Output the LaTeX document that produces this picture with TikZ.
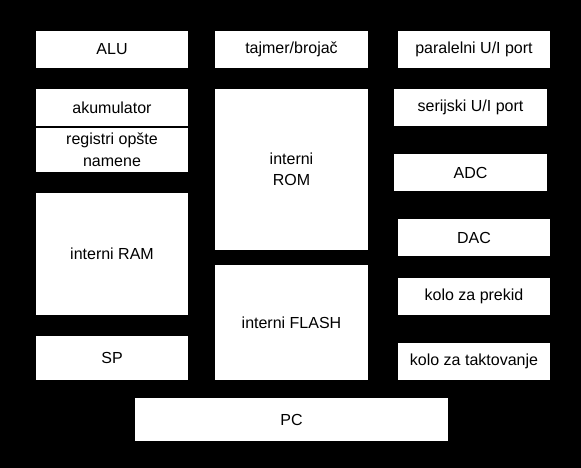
\documentclass[tikz,border=0pt]{standalone}
\usepackage{fontspec}
\setmainfont{Liberation Sans}
\begin{document}
\begin{tikzpicture}[x=1pt,y=-1pt,
  blk/.style={fill=white, draw=none, inner sep=0pt, align=center,
    font=\fontsize{16}{21.5}\selectfont, text=black}]
\fill[black] (0,0) rectangle (581,468);
\useasboundingbox (0,0) rectangle (581,468);
% left column
\node[blk, minimum width=152, minimum height=37] (alu) at (112,49.5) {ALU};
\node[blk, minimum width=152, minimum height=37] (aku) at (112,107.5) {akumulator};
\node[blk, minimum width=152, minimum height=44] (reg) at (112,150) {registri opšte\\namene};
\node[blk, minimum width=152, minimum height=122] (ram) at (112,254) {interni RAM};
\node[blk, minimum width=152, minimum height=44] (sp) at (112,358) {SP};
% middle column
\node[blk, minimum width=153, minimum height=37] (tim) at (291.5,49.5) {tajmer/brojač};
\node[blk, minimum width=153, minimum height=161] (rom) at (291.5,169.5) {interni\\ROM};
\node[blk, minimum width=153, minimum height=115] (fl) at (291.5,322.5) {interni FLASH};
% right column
\node[blk, minimum width=152, minimum height=37] (par) at (474,49.5) {paralelni U/I port};
\node[blk, minimum width=153, minimum height=37] (ser) at (470.5,107.5) {serijski U/I port};
\node[blk, minimum width=153, minimum height=37] (adc) at (470.5,172.5) {ADC};
\node[blk, minimum width=152, minimum height=37] (dac) at (474,237.5) {DAC};
\node[blk, minimum width=152, minimum height=37] (prk) at (474,296.5) {kolo za prekid};
\node[blk, minimum width=152, minimum height=37] (tak) at (474,361.5) {kolo za taktovanje};
% bottom
\node[blk, minimum width=313, minimum height=43] (pc) at (291.5,419.5) {PC};
\end{tikzpicture}
\end{document}
